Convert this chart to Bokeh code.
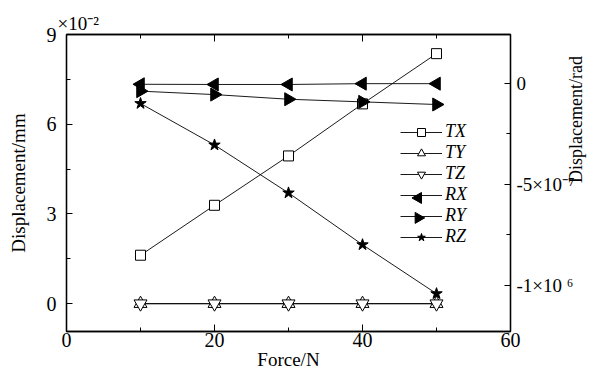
from math import pi
from bokeh.plotting import figure
from bokeh.models import (Range1d, LinearAxis, FixedTicker, Legend, LegendItem,
                          CustomJSTickFormatter)
from bokeh.embed import file_html
from bokeh.resources import INLINE

# ---------------- data ----------------
force = [10, 20, 30, 40, 50]
# translational displacement (units of 1e-2 mm, left axis)
TX = [1.62, 3.29, 4.94, 6.68, 8.36]
TY = [0.0, 0.0, 0.0, 0.0, 0.0]
TZ = [0.0, 0.0, 0.0, 0.0, 0.0]
# rotational displacement (rad, right axis)
RX = [-5e-9, -6e-9, -6e-9, -2e-9, -2e-9]
RY = [-3.9e-8, -5.6e-8, -7.9e-8, -9.2e-8, -1.05e-7]
RZ = [-1.0e-7, -3.05e-7, -5.42e-7, -7.98e-7, -1.04e-6]

x_ticks = [0, 20, 40, 60]
x_minor = [10, 30, 50]
left_ticks = [0, 3, 6, 9]
left_minor = [1.5, 4.5, 7.5]
right_ticks = [0, -5e-7, -1e-6]
right_minor = [-2.5e-7, -7.5e-7]
right_tick_labels = ["0", "-5×10⁻⁷", "-1×10 ⁶"]
legend_names = ["TX", "TY", "TZ", "RX", "RY", "RZ"]

FONT = "Liberation Serif"
TICK_FS = "20px"
LABEL_FS = "19px"

# frame geometry (pixels)
FW, FH = 448, 298
p = figure(width=598, height=372, x_range=Range1d(0, 60), y_range=Range1d(-0.93, 9),
           output_backend="svg", toolbar_location=None,
           min_border_left=66, min_border_right=84, min_border_top=34, min_border_bottom=40)
p.extra_y_ranges = {"rad": Range1d(-1.227e-6, 2.41e-7), "py": Range1d(0, FH)}
p.extra_x_ranges = {"px": Range1d(0, FW)}
p.xgrid.visible = False
p.ygrid.visible = False
p.outline_line_color = "black"
p.outline_line_width = 1.3
p.background_fill_color = "white"
p.border_fill_color = "white"

# multiplier text above the left axis
p.title.text = "×10⁻²"
p.title.align = "left"
p.title.offset = -9
p.title.text_font = FONT
p.title.text_font_size = LABEL_FS
p.title.text_font_style = "normal"
p.title.text_color = "black"
p.title.standoff = 2


def style_axis(ax, tin=6, mtin=4):
    ax.major_tick_in = tin
    ax.major_tick_out = 0
    ax.minor_tick_in = mtin
    ax.minor_tick_out = 0
    ax.axis_line_color = "black"
    ax.axis_line_width = 1.3
    ax.major_tick_line_color = "black"
    ax.minor_tick_line_color = "black"
    ax.major_label_text_font = FONT
    ax.major_label_text_font_size = TICK_FS
    ax.major_label_text_color = "black"
    ax.axis_label_text_font = FONT
    ax.axis_label_text_font_size = LABEL_FS
    ax.axis_label_text_font_style = "normal"
    ax.axis_label_text_color = "black"


# bottom axis
xa = p.xaxis[0]
xa.ticker = FixedTicker(ticks=x_ticks, minor_ticks=x_minor)
style_axis(xa, 7, 4)
xa.major_label_standoff = 1
xa.axis_label = "Force/N"
xa.axis_label_standoff = -1

# top axis (ticks only)
ta = LinearAxis(ticker=FixedTicker(ticks=x_ticks, minor_ticks=x_minor))
style_axis(ta, 7, 4)
ta.major_label_text_font_size = "0px"
ta.major_label_standoff = 0
p.add_layout(ta, "above")

# left axis
ya = p.yaxis[0]
ya.ticker = FixedTicker(ticks=left_ticks, minor_ticks=left_minor)
style_axis(ya, 6, 4)
ya.axis_label = "Displacement/mm"
ya.major_label_standoff = 10
ya.axis_label_standoff = 15

# right axis
ra = LinearAxis(y_range_name="rad", ticker=FixedTicker(ticks=right_ticks, minor_ticks=right_minor))
style_axis(ra, 6, 4)
ra.major_label_text_font_size = "19px"
ra.major_label_standoff = 6
ra.axis_label = "Displacement/rad"
ra.axis_label_text_font_size = "18px"
ra.axis_label_standoff = -2
ra.axis_label_orientation = pi / 2
ra.axis_label_align = "center"
ra.axis_label_text_align = "center"
ra.formatter = CustomJSTickFormatter(args=dict(t=right_ticks, l=right_tick_labels), code="""
for (let i = 0; i < t.length; i++) { if (Math.abs(tick - t[i]) < 1e-10) return l[i]; }
return "";
""")
p.add_layout(ra, "right")

# ---------------- series ----------------
LW = 0.9
items = []


def series(name, ys, marker, size, fill, angle=0.0, rng="default", legend_marker=True):
    l = p.line(force, ys, line_color="black", line_width=LW, y_range_name=rng)
    s = p.scatter(force, ys, marker=marker, size=size, fill_color=fill, line_color="black",
                  line_width=1, angle=angle, y_range_name=rng)
    items.append(LegendItem(label=name, renderers=[l, s] if legend_marker else [l]))


series("TX", TX, "square", 10, "white")
series("TY", TY, "triangle", 13, "white")
series("TZ", TZ, "inverted_triangle", 13, "white")
series("RX", RX, "triangle", 13, "black", angle=pi / 2, rng="rad", legend_marker=False)
series("RY", RY, "triangle", 13, "black", angle=-pi / 2, rng="rad", legend_marker=False)
series("RZ", RZ, "star", 12, "black", rng="rad")

# legend (frame-relative pixels)
LEG_X, LEG_Y, GW, ROW = 334, 84, 42, 20
leg = Legend(items=items, location=(LEG_X, LEG_Y), orientation="vertical",
             glyph_width=GW, glyph_height=ROW, label_height=ROW, spacing=0, padding=0, margin=0,
             label_standoff=3, border_line_color=None, background_fill_alpha=0,
             label_text_font=FONT, label_text_font_size="18px", label_text_font_style="italic",
             label_text_color="black")
p.add_layout(leg, "center")

# rotated legend keys for RX / RY (legend glyphs ignore marker angle)
n = len(legend_names)
key_x = [LEG_X + GW / 2] * 2
key_y = [LEG_Y + (n - i - 0.5) * ROW for i in (legend_names.index("RX"), legend_names.index("RY"))]
p.scatter(key_x, key_y, marker="triangle", size=11, fill_color="black", line_color="black",
          angle=[pi / 2, -pi / 2], x_range_name="px", y_range_name="py")

open("out.html", "w").write(file_html(p, INLINE))
